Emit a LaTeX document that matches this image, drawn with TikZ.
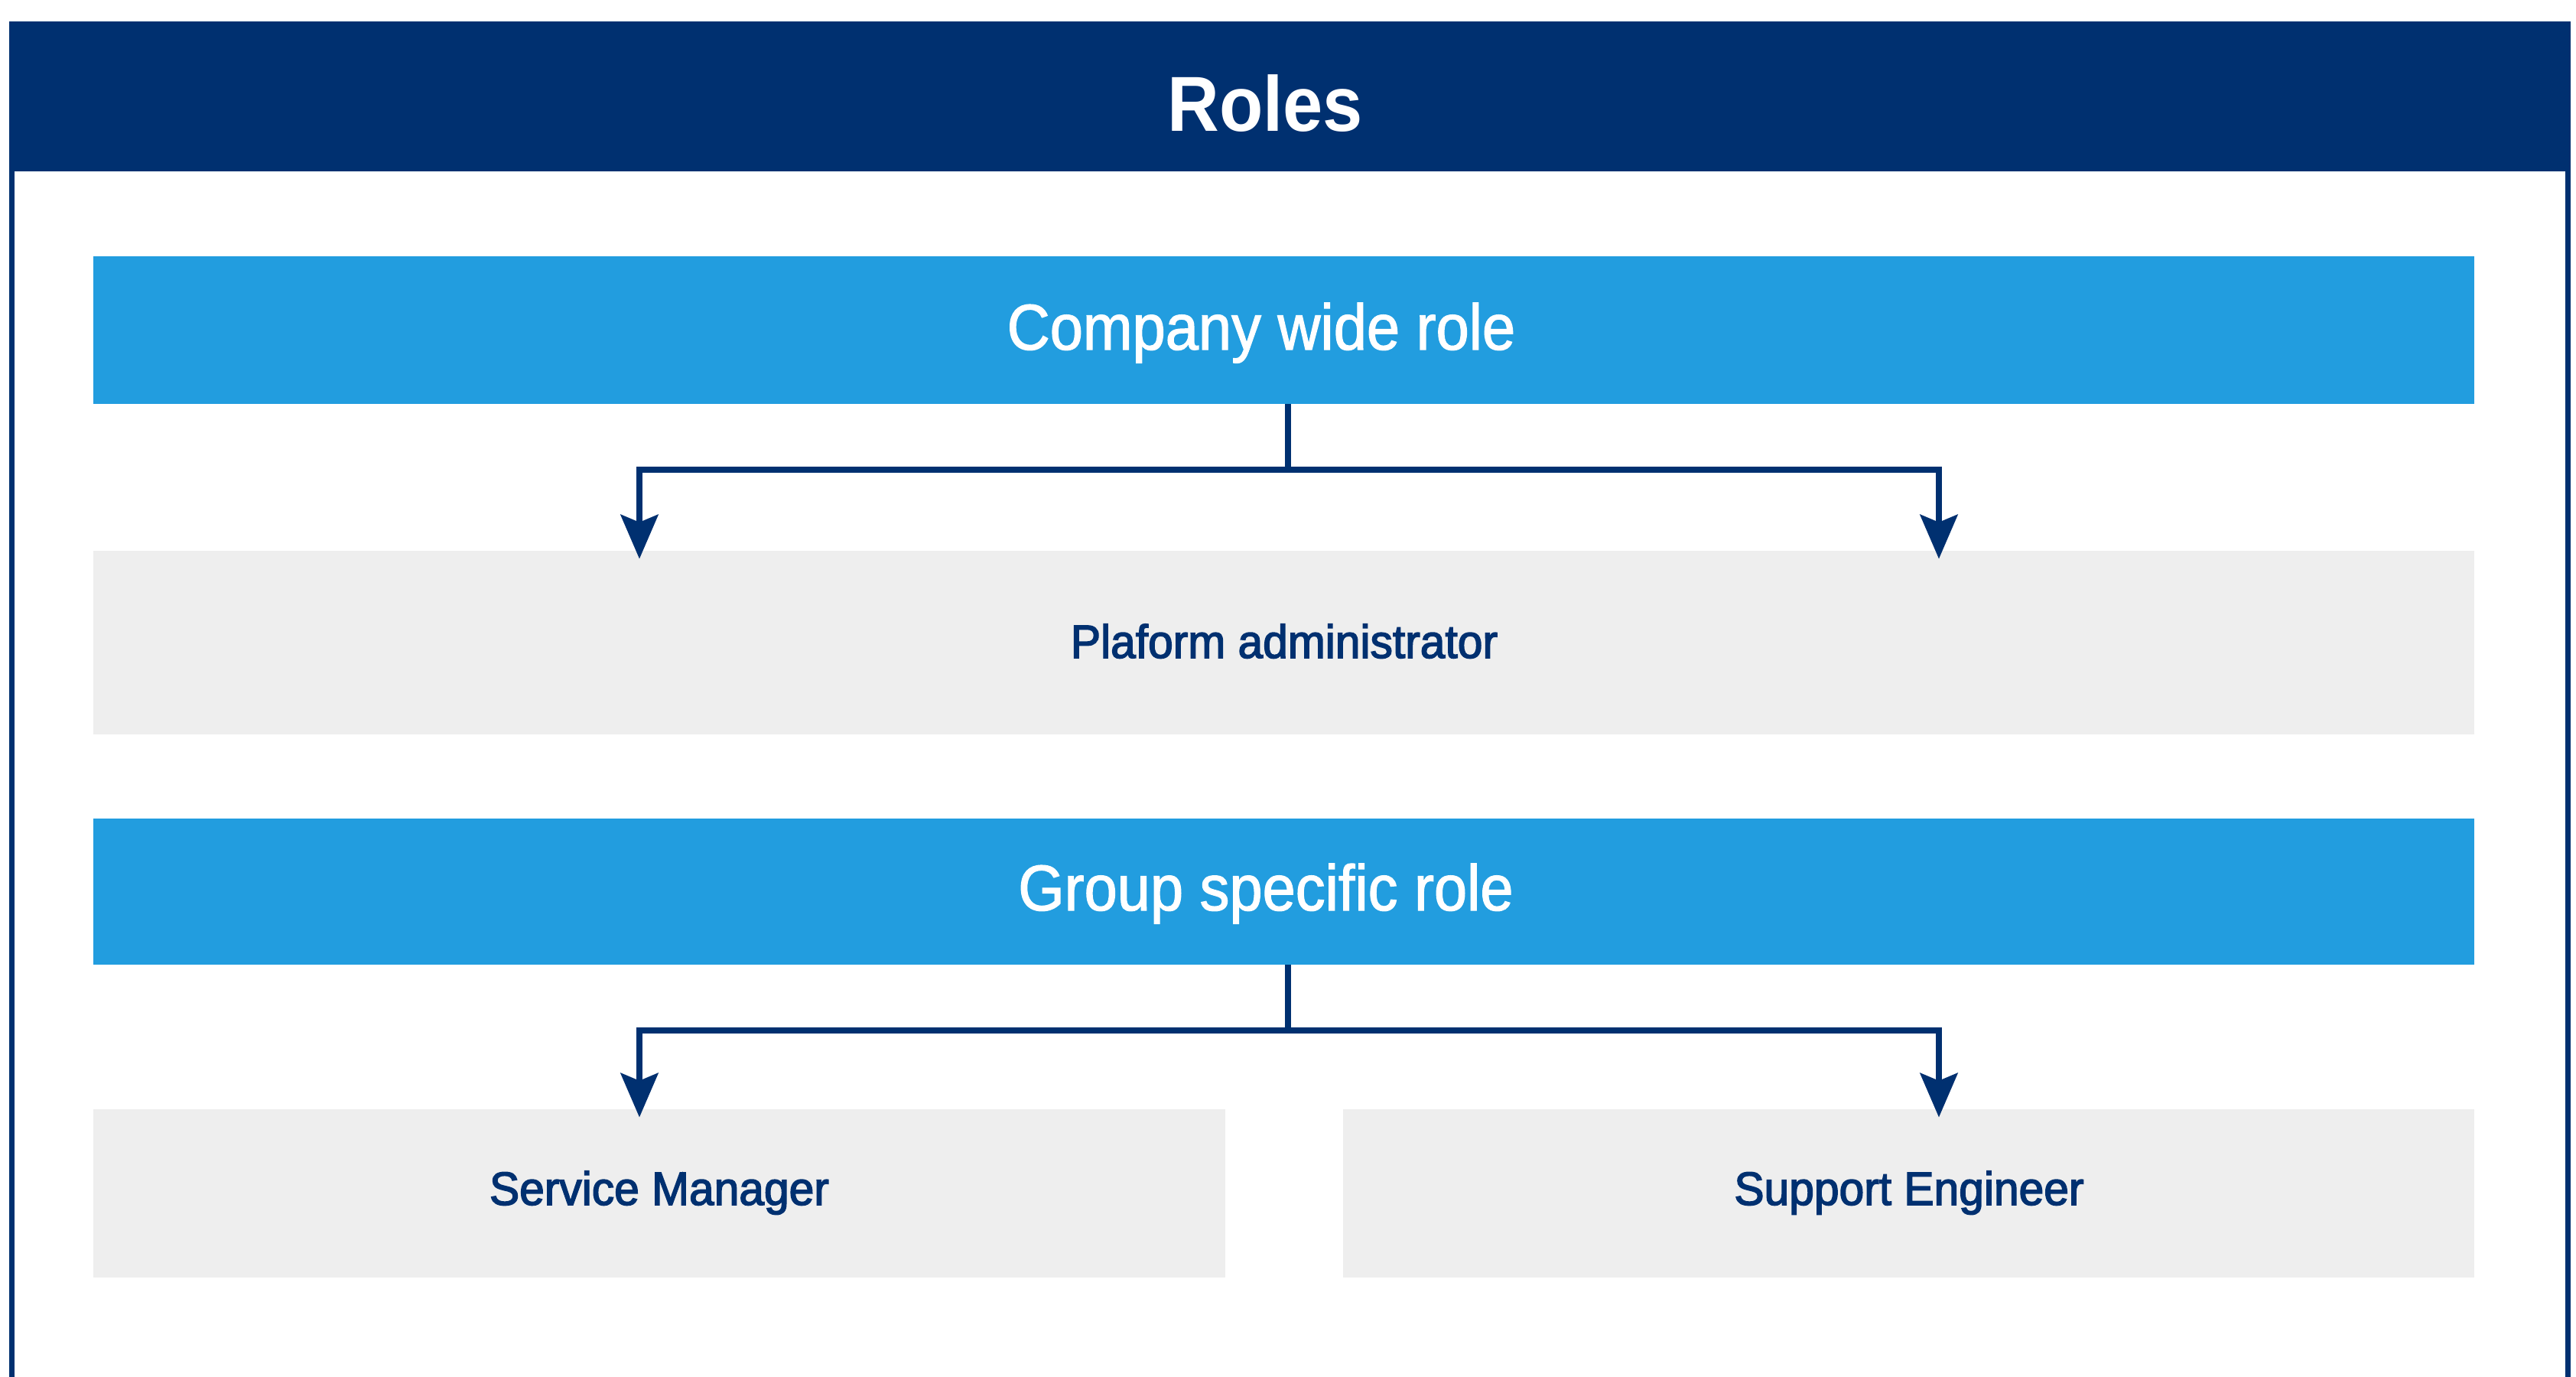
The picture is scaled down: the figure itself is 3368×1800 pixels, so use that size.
\documentclass[tikz,border=0pt]{standalone}
\usepackage{fontspec}
\setmainfont{Liberation Sans}[FakeStretch=0.92]
\font\medf="Liberation Sans:extend=0.96;embolden=2.5" at 17.4pt
\font\barf="Liberation Sans:extend=0.92;embolden=1.5" at 24pt
\usetikzlibrary{arrows.meta}
\newdimen\px \px=0.01cm
\definecolor{navy}{RGB}{0,48,112}
\definecolor{skyb}{RGB}{34,157,223}
\definecolor{lgray}{RGB}{238,238,238}
\tikzset{
  blk/.style={inner sep=0pt, outer sep=0pt, draw=none, anchor=north west},
  bluebar/.style={blk, fill=skyb},
  graybox/.style={blk, fill=lgray},
  ttl/.style={inner sep=0pt, anchor=base, text=white, font=\fontsize{29pt}{34pt}\selectfont\bfseries},
  bartxt/.style={inner sep=0pt, anchor=base, text=white, font=\barf},
  boxtxt/.style={inner sep=0pt, anchor=base, text=navy, font=\medf},
  conn/.style={draw=navy, line width=2.3pt, line join=miter},
  arr/.style={-{Stealth[length=16.4pt, width=13.9pt, inset=2.8pt]}, shorten >=-3pt},
}
\begin{document}
\begin{tikzpicture}[x=0.01cm, y=-0.01cm]
\useasboundingbox (0,0) rectangle (3368,1800);
% frame
\node[blk, fill=navy, minimum width=3349\px, minimum height=196\px] (hdr) at (12,28) {};
\draw[navy, line width=1.99pt] (15.5,223) -- (15.5,1800);
\draw[navy, line width=1.99pt] (3357.5,223) -- (3357.5,1800);
\node[ttl] (troles) at (1654,172) {Roles};
% boxes
\node[bluebar, minimum width=3113\px, minimum height=193\px] (cw) at (122,335) {};
\node[graybox, minimum width=3113\px, minimum height=240\px] (pa) at (122,720) {};
\node[bluebar, minimum width=3113\px, minimum height=191\px] (gs) at (122,1070) {};
\node[graybox, minimum width=1480\px, minimum height=220\px] (sm) at (122,1450) {};
\node[graybox, minimum width=1479\px, minimum height=220\px] (se) at (1756,1450) {};
% texts
\node[bartxt] (tcw) at (1649,457) {Company wide role};
\node[boxtxt] (tpa) at (1679,860) {Plaform administrator};
\node[bartxt] (tgs) at (1655,1190) {Group specific role};
\node[boxtxt] (tsm) at (862,1575) {Service Manager};
\node[boxtxt] (tse) at (2496,1575) {Support Engineer};
% connectors
\coordinate (xl) at (836,0);
\coordinate (xr) at (2535,0);
\coordinate (j1) at (1684,614);
\coordinate (j2) at (1684,1347);
\draw[conn] (cw.south -| j1) -- (j1);
\draw[conn, arr] (j1) -| (pa.north -| xl);
\draw[conn, arr] (j1) -| (pa.north -| xr);
\draw[conn] (gs.south -| j2) -- (j2);
\draw[conn, arr] (j2) -| (sm.north -| xl);
\draw[conn, arr] (j2) -| (se.north -| xr);
\end{tikzpicture}
\end{document}
